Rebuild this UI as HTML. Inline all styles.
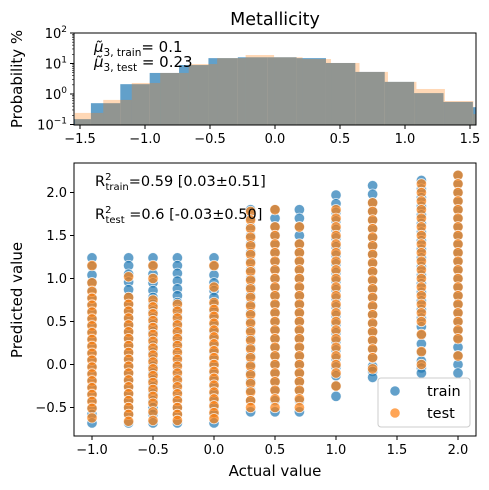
<!DOCTYPE html>
<html><head><meta charset="utf-8"><style>
html,body{margin:0;padding:0;background:#fff;}
svg{display:block;font-family:"DejaVu Sans","Liberation Sans",sans-serif;}
</style></head><body>
<svg id="fig" width="489" height="490" viewBox="0 0 489 490">
<g id="topPanel"></g>
<g id="botPanel"></g>
</svg>
<script>
// ---- histogram data ----
const trainEdge0 = -1.642, trainBinW = 0.226;
const trainHist = [0.15,0.5,2.1,4.9,8.9,15,16,16,15,10.4,5.3,2.5,1.07,0.55,0.37];
const testEdge0 = -1.54, testBinW = 0.219;
const testHist = [0.24,0.64,2.3,4.9,9.6,15,19,16,14,10.4,5.3,2.5,1.46,0.59,0.22];
const histXTicks = [-1.5,-1.0,-0.5,0.0,0.5,1.0,1.5];
const histXTickLabels = ["\u22121.5","\u22121.0","\u22120.5","0.0","0.5","1.0","1.5"];
const histYTicks = [-1,0,1,2];
// ---- scatter data ----
const actualVals = [-1.0,-0.7,-0.5,-0.3,0.0,0.3,0.5,0.7,1.0,1.3,1.7,2.0];
const trainPred = [
 [1.24,1.14,1.04,0.95,0.86,0.78,0.7,0.62,0.54,0.46,0.38,0.3,0.22,0.14,0.06,-0.02,-0.1,-0.18,-0.26,-0.34,-0.42,-0.5,-0.58,-0.68],
 [1.24,1.15,1.05,0.96,0.87,0.78,0.7,0.62,0.54,0.46,0.38,0.3,0.22,0.14,0.06,-0.02,-0.1,-0.18,-0.26,-0.34,-0.42,-0.5,-0.58,-0.68],
 [1.24,1.14,1.05,0.95,0.86,0.78,0.7,0.62,0.54,0.46,0.38,0.3,0.22,0.14,0.06,-0.02,-0.1,-0.18,-0.26,-0.34,-0.42,-0.5,-0.58,-0.68],
 [1.24,1.15,1.06,0.97,0.88,0.8,0.72,0.64,0.56,0.48,0.4,0.32,0.24,0.16,0.08,0.0,-0.08,-0.16,-0.24,-0.32,-0.4,-0.5,-0.58,-0.68],
 [1.24,1.14,1.04,0.95,0.86,0.78,0.7,0.62,0.54,0.46,0.38,0.3,0.22,0.14,0.06,-0.02,-0.1,-0.18,-0.26,-0.34,-0.42,-0.5,-0.58,-0.68],
 [1.8,1.7,1.6,1.5,1.4,1.3,1.2,1.1,1.0,0.9,0.8,0.7,0.6,0.5,0.4,0.3,0.2,0.1,0.0,-0.1,-0.2,-0.3,-0.42,-0.55],
 [1.8,1.7,1.6,1.5,1.4,1.3,1.2,1.1,1.0,0.9,0.8,0.7,0.6,0.5,0.4,0.3,0.2,0.1,0.0,-0.1,-0.2,-0.3,-0.42,-0.55],
 [1.8,1.7,1.6,1.5,1.4,1.3,1.2,1.1,1.0,0.9,0.8,0.7,0.6,0.5,0.4,0.3,0.2,0.1,0.0,-0.1,-0.2,-0.3,-0.42,-0.55],
 [1.97,1.87,1.77,1.67,1.57,1.47,1.37,1.27,1.17,1.07,0.97,0.87,0.77,0.67,0.57,0.47,0.37,0.27,0.17,0.07,-0.03,-0.13,-0.25,-0.37],
 [2.08,1.98,1.88,1.78,1.68,1.58,1.48,1.38,1.28,1.18,1.08,0.98,0.88,0.78,0.68,0.58,0.48,0.38,0.28,0.18,0.08,-0.02,-0.08,-0.15],
 [2.14,2.04,1.94,1.84,1.74,1.64,1.54,1.44,1.34,1.24,1.14,1.04,0.94,0.84,0.74,0.64,0.54,0.44,0.34,0.24,0.14,0.04,-0.04,-0.1],
 [2.2,2.1,2.0,1.9,1.8,1.7,1.6,1.5,1.4,1.3,1.2,1.1,1.0,0.9,0.8,0.7,0.6,0.5,0.4,0.3,0.2,0.1,0.0,-0.1]
];
const testPred = [
 [1.15,0.95,0.85,0.77,0.69,0.61,0.53,0.45,0.37,0.29,0.21,0.13,0.05,-0.03,-0.11,-0.19,-0.27,-0.35,-0.43,-0.51,-0.62],
 [1.02,0.78,0.7,0.62,0.54,0.46,0.38,0.3,0.22,0.14,0.06,-0.02,-0.1,-0.18,-0.26,-0.34,-0.42,-0.5,-0.58,-0.66],
 [1.15,1.0,0.75,0.67,0.59,0.51,0.43,0.35,0.27,0.19,0.11,0.03,-0.05,-0.13,-0.21,-0.29,-0.37,-0.45,-0.55,-0.65],
 [0.7,0.62,0.54,0.46,0.38,0.3,0.22,0.14,0.06,-0.02,-0.1,-0.18,-0.26,-0.34,-0.42,-0.5,-0.58,-0.65],
 [1.15,0.9,0.72,0.64,0.56,0.48,0.4,0.32,0.24,0.16,0.08,0.0,-0.08,-0.16,-0.24,-0.32,-0.4,-0.48,-0.56,-0.63],
 [1.78,1.68,1.58,1.48,1.38,1.28,1.18,1.08,0.98,0.88,0.78,0.68,0.58,0.48,0.38,0.28,0.18,0.08,-0.02,-0.12,-0.22,-0.32,-0.42,-0.5],
 [1.8,1.6,1.5,1.4,1.3,1.2,1.1,1.0,0.9,0.8,0.7,0.6,0.5,0.4,0.3,0.2,0.1,0.0,-0.1,-0.2,-0.3,-0.4,-0.5],
 [1.6,1.4,1.3,1.2,1.1,1.0,0.9,0.8,0.7,0.6,0.5,0.4,0.3,0.2,0.1,0.0,-0.1,-0.2,-0.3,-0.4,-0.5],
 [1.8,1.7,1.6,1.5,1.4,1.3,1.2,1.1,1.0,0.9,0.8,0.7,0.6,0.5,0.4,0.3,0.2,0.1,0.0,-0.1,-0.25],
 [1.88,1.78,1.68,1.58,1.48,1.38,1.28,1.18,1.08,0.98,0.88,0.78,0.68,0.58,0.48,0.38,0.28,0.18,0.08,-0.05],
 [2.1,2.0,1.9,1.8,1.7,1.6,1.5,1.4,1.3,1.2,1.1,1.0,0.9,0.8,0.7,0.6,0.5,0.35,0.15,0.0],
 [2.2,2.1,2.0,1.9,1.8,1.7,1.6,1.5,1.4,1.3,1.2,1.1,1.0,0.9,0.8,0.7,0.6,0.5,0.4,0.3,0.1]
];
const scXTicks = [-1.0,-0.5,0.0,0.5,1.0,1.5,2.0];
const scXTickLabels = ["\u22121.0","\u22120.5","0.0","0.5","1.0","1.5","2.0"];
const scYTicks = [-0.5,0.0,0.5,1.0,1.5,2.0];
const scYTickLabels = ["\u22120.5","0.0","0.5","1.0","1.5","2.0"];

const SVGNS = "http://www.w3.org/2000/svg";
function mk(parent, tag, attrs, text){
  const el = document.createElementNS(SVGNS, tag);
  for (const k in attrs) el.setAttribute(k, attrs[k]);
  if (text !== undefined) el.textContent = text;
  parent.appendChild(el);
  return el;
}
// ---- top panel ----
const topG = document.getElementById('topPanel');
const T = {l:74, r:476, t:33, b:125};
const hx = v => 275 + v*130;
const hy = v => 94 - Math.log10(v)*30.5;
const clipT = mk(topG,'clipPath',{id:'ct'}); mk(clipT,'rect',{x:T.l,y:T.t,width:T.r-T.l,height:T.b-T.t});
const hg = mk(topG,'g',{'clip-path':'url(#ct)'});
trainHist.forEach((v,i)=>{
  const x0 = hx(trainEdge0+i*trainBinW), x1 = hx(trainEdge0+(i+1)*trainBinW);
  const r = mk(hg,'rect',{x:x0,y:hy(v),width:x1-x0,height:T.b-hy(v)+5,fill:'rgba(31,119,180,0.7)'});
  
  
});
testHist.forEach((v,i)=>{
  const x0 = hx(testEdge0+i*testBinW), x1 = hx(testEdge0+(i+1)*testBinW);
  const r = mk(hg,'rect',{x:x0,y:hy(v),width:x1-x0,height:T.b-hy(v)+5,fill:'rgba(255,127,14,0.3)'});
  
  
});
mk(topG,'rect',{x:T.l,y:T.t,width:T.r-T.l,height:T.b-T.t,fill:'none',stroke:'#000','stroke-width':1});
histXTicks.forEach((v,i)=>{
  const x=hx(v);
  mk(topG,'line',{x1:x,x2:x,y1:T.b,y2:T.b+4,stroke:'#000'});
  const t = mk(topG,'text',{x:x,y:T.b+18,'text-anchor':'middle','font-size':13},histXTickLabels[i]);
  
  
});
histYTicks.forEach(p=>{
  const y=94-p*30.5;
  mk(topG,'line',{x1:T.l-4,x2:T.l,y1:y,y2:y,stroke:'#000'});
  const t = mk(topG,'text',{x:T.l-7,y:y+5,'text-anchor':'end','font-size':13});
  
  
  mk(t,'tspan',{},'10');
  mk(t,'tspan',{dy:-6,'font-size':9},p<0?'\u22121':String(p));
  if (p<2) for(let m=2;m<10;m++){
    const yy = y - Math.log10(m)*30.5;
    mk(topG,'line',{x1:T.l-2,x2:T.l,y1:yy,y2:yy,stroke:'#000','stroke-width':0.6});
  }
});
// ---- bottom panel ----
const botG = document.getElementById('botPanel');
const B = {l:74, r:476, t:163, b:436};
const sx = v => 214 + v*122;
const sy = v => 364.5 - v*86;
trainPred.forEach((col,ci)=>{
  col.forEach(v=>{
    const c = mk(botG,'circle',{cx:sx(actualVals[ci]),cy:sy(v),r:5.2,fill:'rgba(31,119,180,0.7)',stroke:'rgba(255,255,255,0.8)','stroke-width':0.8});
    
    
  });
});
testPred.forEach((col,ci)=>{
  col.forEach(v=>{
    const c = mk(botG,'circle',{cx:sx(actualVals[ci]),cy:sy(v),r:5.2,fill:'rgba(255,127,14,0.7)',stroke:'rgba(255,255,255,0.8)','stroke-width':0.8});
    
    
  });
});
mk(botG,'rect',{x:B.l,y:B.t,width:B.r-B.l,height:B.b-B.t,fill:'none',stroke:'#000','stroke-width':1});
scXTicks.forEach((v,i)=>{
  const x=sx(v);
  mk(botG,'line',{x1:x,x2:x,y1:B.b,y2:B.b+4,stroke:'#000'});
  const t = mk(botG,'text',{x:x,y:B.b+18,'text-anchor':'middle','font-size':13},scXTickLabels[i]);
  
  
});
scYTicks.forEach((v,i)=>{
  const y=sy(v);
  mk(botG,'line',{x1:B.l-4,x2:B.l,y1:y,y2:y,stroke:'#000'});
  const t = mk(botG,'text',{x:B.l-7,y:y+4.5,'text-anchor':'end','font-size':13},scYTickLabels[i]);
  
  
});
</script>
<script>
const fig = document.getElementById('fig');
function add(tag, attrs, html){
  const el = document.createElementNS("http://www.w3.org/2000/svg", tag);
  for (const k in attrs) el.setAttribute(k, attrs[k]);
  if (html) el.innerHTML = html;
  fig.appendChild(el); return el;
}
let lab;
lab = add('text',{x:275,y:25,'text-anchor':'middle','font-size':17.5},'Metallicity');


lab = add('text',{x:22,y:79,'text-anchor':'middle','font-size':15,transform:'rotate(-90 22 79)'},'Probability %');


lab = add('text',{x:94,y:52,'font-size':15},'<tspan font-style="italic">μ̃</tspan><tspan font-size="10.5" dy="4">3, train</tspan><tspan dy="-4">= 0.1</tspan>');


lab = add('text',{x:94,y:67,'font-size':15},'<tspan font-style="italic">μ̃</tspan><tspan font-size="10.5" dy="4">3, test</tspan><tspan dy="-4"> = 0.23</tspan>');


lab = add('text',{x:95,y:186,'font-size':14.5},'<tspan>R</tspan><tspan font-size="10" dy="-6">2</tspan><tspan font-size="10" dx="-6" dy="10">train</tspan><tspan dy="-4">=0.59 [0.03±0.51]</tspan>');


lab = add('text',{x:95,y:219,'font-size':14.5},'<tspan>R</tspan><tspan font-size="10" dy="-6">2</tspan><tspan font-size="10" dx="-6" dy="10">test</tspan><tspan dy="-4"> =0.6 [-0.03±0.50]</tspan>');


lab = add('text',{x:275,y:476,'text-anchor':'middle','font-size':15},'Actual value');


lab = add('text',{x:22,y:300,'text-anchor':'middle','font-size':15,transform:'rotate(-90 22 300)'},'Predicted value');


const lg = add('g',{});


lg.innerHTML = '<rect x="378" y="378" width="92" height="49" rx="3" fill="rgba(255,255,255,0.8)" stroke="#ccc"/>'+
 '<circle cx="395" cy="391" r="5.2" fill="rgba(31,119,180,0.7)" stroke="#fff" stroke-width="0.8"/>'+
 '<text x="427" y="396" font-size="14.5">train</text>'+
 '<circle cx="395" cy="413" r="5.2" fill="rgba(255,127,14,0.7)" stroke="#fff" stroke-width="0.8"/>'+
 '<text x="427" y="418" font-size="14.5">test</text>';
</script>
</body></html>
